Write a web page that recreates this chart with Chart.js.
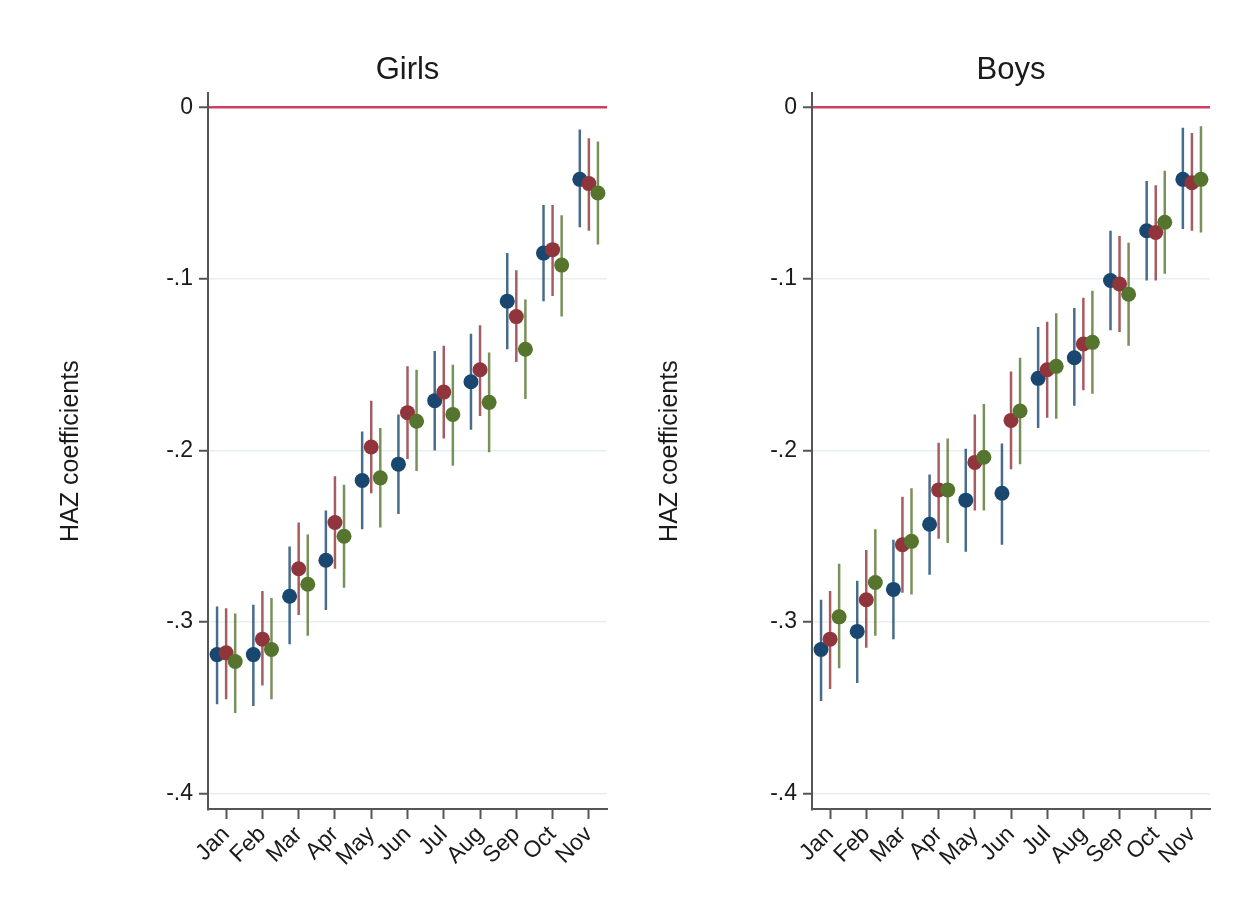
<!DOCTYPE html>
<html>
<head>
<meta charset="utf-8">
<script src="https://cdn.jsdelivr.net/npm/chart.js"></script>
<style>
  html, body { margin: 0; padding: 0; background: #fff; }
  #wrap { position: relative; width: 1247px; height: 910px; overflow: hidden; }
  .panel { position: absolute; top: 0; height: 910px; }
</style>
</head>
<body>
<div id="wrap">
  <div class="panel" style="left:0;width:620px;"><canvas id="girlsChart"></canvas></div>
  <div class="panel" style="left:620px;width:627px;"><canvas id="boysChart"></canvas></div>
</div>
<script>
// month categories and y ticks
const months = ['Jan', 'Feb', 'Mar', 'Apr', 'May', 'Jun', 'Jul', 'Aug', 'Sep', 'Oct', 'Nov'];
const yTickValues = [0, -0.1, -0.2, -0.3, -0.4];
const yTickLabels = ['0', '-.1', '-.2', '-.3', '-.4'];

// Girls: three estimates per month with lower / upper bounds
const girlsEst1 = [-0.319, -0.319, -0.285, -0.264, -0.2175, -0.208, -0.171, -0.160, -0.113, -0.085, -0.042];
const girlsLo1  = [-0.348, -0.349, -0.313, -0.293, -0.246, -0.237, -0.200, -0.188, -0.141, -0.113, -0.070];
const girlsHi1  = [-0.291, -0.290, -0.256, -0.235, -0.189, -0.179, -0.142, -0.132, -0.085, -0.057, -0.013];

const girlsEst2 = [-0.318, -0.310, -0.269, -0.242, -0.198, -0.178, -0.166, -0.153, -0.122, -0.083, -0.0445];
const girlsLo2  = [-0.345, -0.337, -0.296, -0.269, -0.225, -0.205, -0.193, -0.180, -0.1485, -0.110, -0.072];
const girlsHi2  = [-0.292, -0.282, -0.242, -0.215, -0.171, -0.151, -0.139, -0.127, -0.095, -0.057, -0.018];

const girlsEst3 = [-0.323, -0.316, -0.278, -0.250, -0.216, -0.183, -0.179, -0.172, -0.141, -0.092, -0.050];
const girlsLo3  = [-0.353, -0.345, -0.308, -0.280, -0.245, -0.212, -0.209, -0.201, -0.170, -0.122, -0.080];
const girlsHi3  = [-0.295, -0.286, -0.249, -0.220, -0.187, -0.153, -0.150, -0.143, -0.112, -0.063, -0.020];

// Boys
const boysEst1 = [-0.316, -0.3055, -0.281, -0.243, -0.229, -0.225, -0.158, -0.146, -0.101, -0.072, -0.042];
const boysLo1  = [-0.346, -0.3355, -0.310, -0.2725, -0.259, -0.255, -0.187, -0.174, -0.130, -0.101, -0.071];
const boysHi1  = [-0.287, -0.276, -0.252, -0.214, -0.199, -0.196, -0.128, -0.117, -0.072, -0.043, -0.012];

const boysEst2 = [-0.310, -0.287, -0.255, -0.223, -0.207, -0.1825, -0.153, -0.138, -0.103, -0.073, -0.044];
const boysLo2  = [-0.339, -0.315, -0.283, -0.2515, -0.235, -0.211, -0.181, -0.165, -0.131, -0.101, -0.072];
const boysHi2  = [-0.282, -0.258, -0.227, -0.1955, -0.179, -0.154, -0.125, -0.111, -0.075, -0.0455, -0.015];

const boysEst3 = [-0.297, -0.277, -0.253, -0.223, -0.204, -0.177, -0.151, -0.137, -0.109, -0.067, -0.042];
const boysLo3  = [-0.327, -0.308, -0.284, -0.254, -0.235, -0.208, -0.1815, -0.167, -0.139, -0.097, -0.073];
const boysHi3  = [-0.266, -0.246, -0.222, -0.193, -0.173, -0.146, -0.120, -0.107, -0.079, -0.037, -0.011];

const seriesColors = ['#1a476f', '#90353b', '#55752f'];
const barColors = ['rgba(26,71,111,0.8)', 'rgba(144,53,59,0.8)', 'rgba(85,117,47,0.8)'];
const offsets = [-0.25, 0, 0.25];
const FONT = 'Arial, "Liberation Sans", sans-serif';

// vertical spikes: pairs of points split by a gap
function spikeData(lo, hi, off) {
  const pts = [];
  lo.forEach((v, i) => {
    pts.push({ x: i + 1 + off, y: v });
    pts.push({ x: i + 1 + off, y: hi[i] });
    pts.push({ x: i + 1 + off, y: null });
  });
  return pts;
}

function dotData(est, off) {
  return est.map((v, i) => ({ x: i + 1 + off, y: v }));
}

function makeChart(id, title, est, lo, hi, yWidth, yTitlePad, rightPad) {
  const datasets = [];
  for (let k = 0; k < 3; k++) {
    datasets.push({
      type: 'line',
      data: spikeData(lo[k], hi[k], offsets[k]),
      borderColor: barColors[k],
      borderWidth: 2.5,
      borderCapStyle: 'butt',
      pointRadius: 0,
      spanGaps: false,
      fill: false,
      order: 6 - k * 2
    });
    datasets.push({
      type: 'scatter',
      data: dotData(est[k], offsets[k]),
      backgroundColor: seriesColors[k],
      borderWidth: 0,
      pointRadius: 7.5,
      order: 5 - k * 2
    });
  }

  new Chart(document.getElementById(id).getContext('2d'), {
    type: 'scatter',
    data: { datasets: datasets },
    options: {
      responsive: true,
      maintainAspectRatio: false,
      animation: false,
      layout: { padding: { left: 0, right: rightPad, top: 0, bottom: 0 } },
      plugins: {
        legend: { display: false },
        tooltip: { enabled: false },
        title: {
          display: true,
          text: title,
          fullSize: false,
          color: '#1a1a1a',
          font: { family: FONT, size: 31, weight: 'normal' },
          padding: { top: 52, bottom: 4 }
        }
      },
      scales: {
        x: {
          type: 'linear',
          min: 0.5,
          max: 11.5,
          afterBuildTicks: (s) => { s.ticks = months.map((m, i) => ({ value: i + 1 })); },
          afterFit: (s) => { s.height = 101; },
          ticks: {
            autoSkip: false,
            minRotation: 45,
            maxRotation: 45,
            padding: 2,
            color: '#1a1a1a',
            font: { family: FONT, size: 23 },
            callback: (v) => months[v - 1]
          },
          grid: { drawOnChartArea: false, drawTicks: true, tickLength: 10, tickColor: '#555', tickWidth: 2 },
          border: { display: true, color: '#555', width: 2 }
        },
        y: {
          min: -0.409,
          max: 0.0082,
          afterBuildTicks: (s) => { s.ticks = yTickValues.map((v) => ({ value: v })); },
          afterFit: (s) => { s.width = yWidth; },
          ticks: {
            padding: 6,
            color: '#1a1a1a',
            font: { family: FONT, size: 23 },
            callback: (v) => yTickLabels[yTickValues.indexOf(v)]
          },
          grid: {
            drawTicks: true,
            tickLength: 9,
            tickColor: '#555',
            tickWidth: 2,
            color: (c) => (c.tick && c.tick.value === 0 ? '#cf3f62' : '#e6eff1'),
            lineWidth: (c) => (c.tick && c.tick.value === 0 ? 2.5 : 1.5)
          },
          border: { display: true, color: '#555', width: 2 },
          title: {
            display: true,
            text: 'HAZ coefficients',
            color: '#1a1a1a',
            font: { family: FONT, size: 25 },
            padding: { top: yTitlePad, bottom: 0 }
          }
        }
      }
    }
  });
}

makeChart('girlsChart', 'Girls',
  [girlsEst1, girlsEst2, girlsEst3], [girlsLo1, girlsLo2, girlsLo3], [girlsHi1, girlsHi2, girlsHi3],
  208, 56, 13);
makeChart('boysChart', 'Boys',
  [boysEst1, boysEst2, boysEst3], [boysLo1, boysLo2, boysLo3], [boysHi1, boysHi2, boysHi3],
  192, 35, 37);
</script>
</body>
</html>
